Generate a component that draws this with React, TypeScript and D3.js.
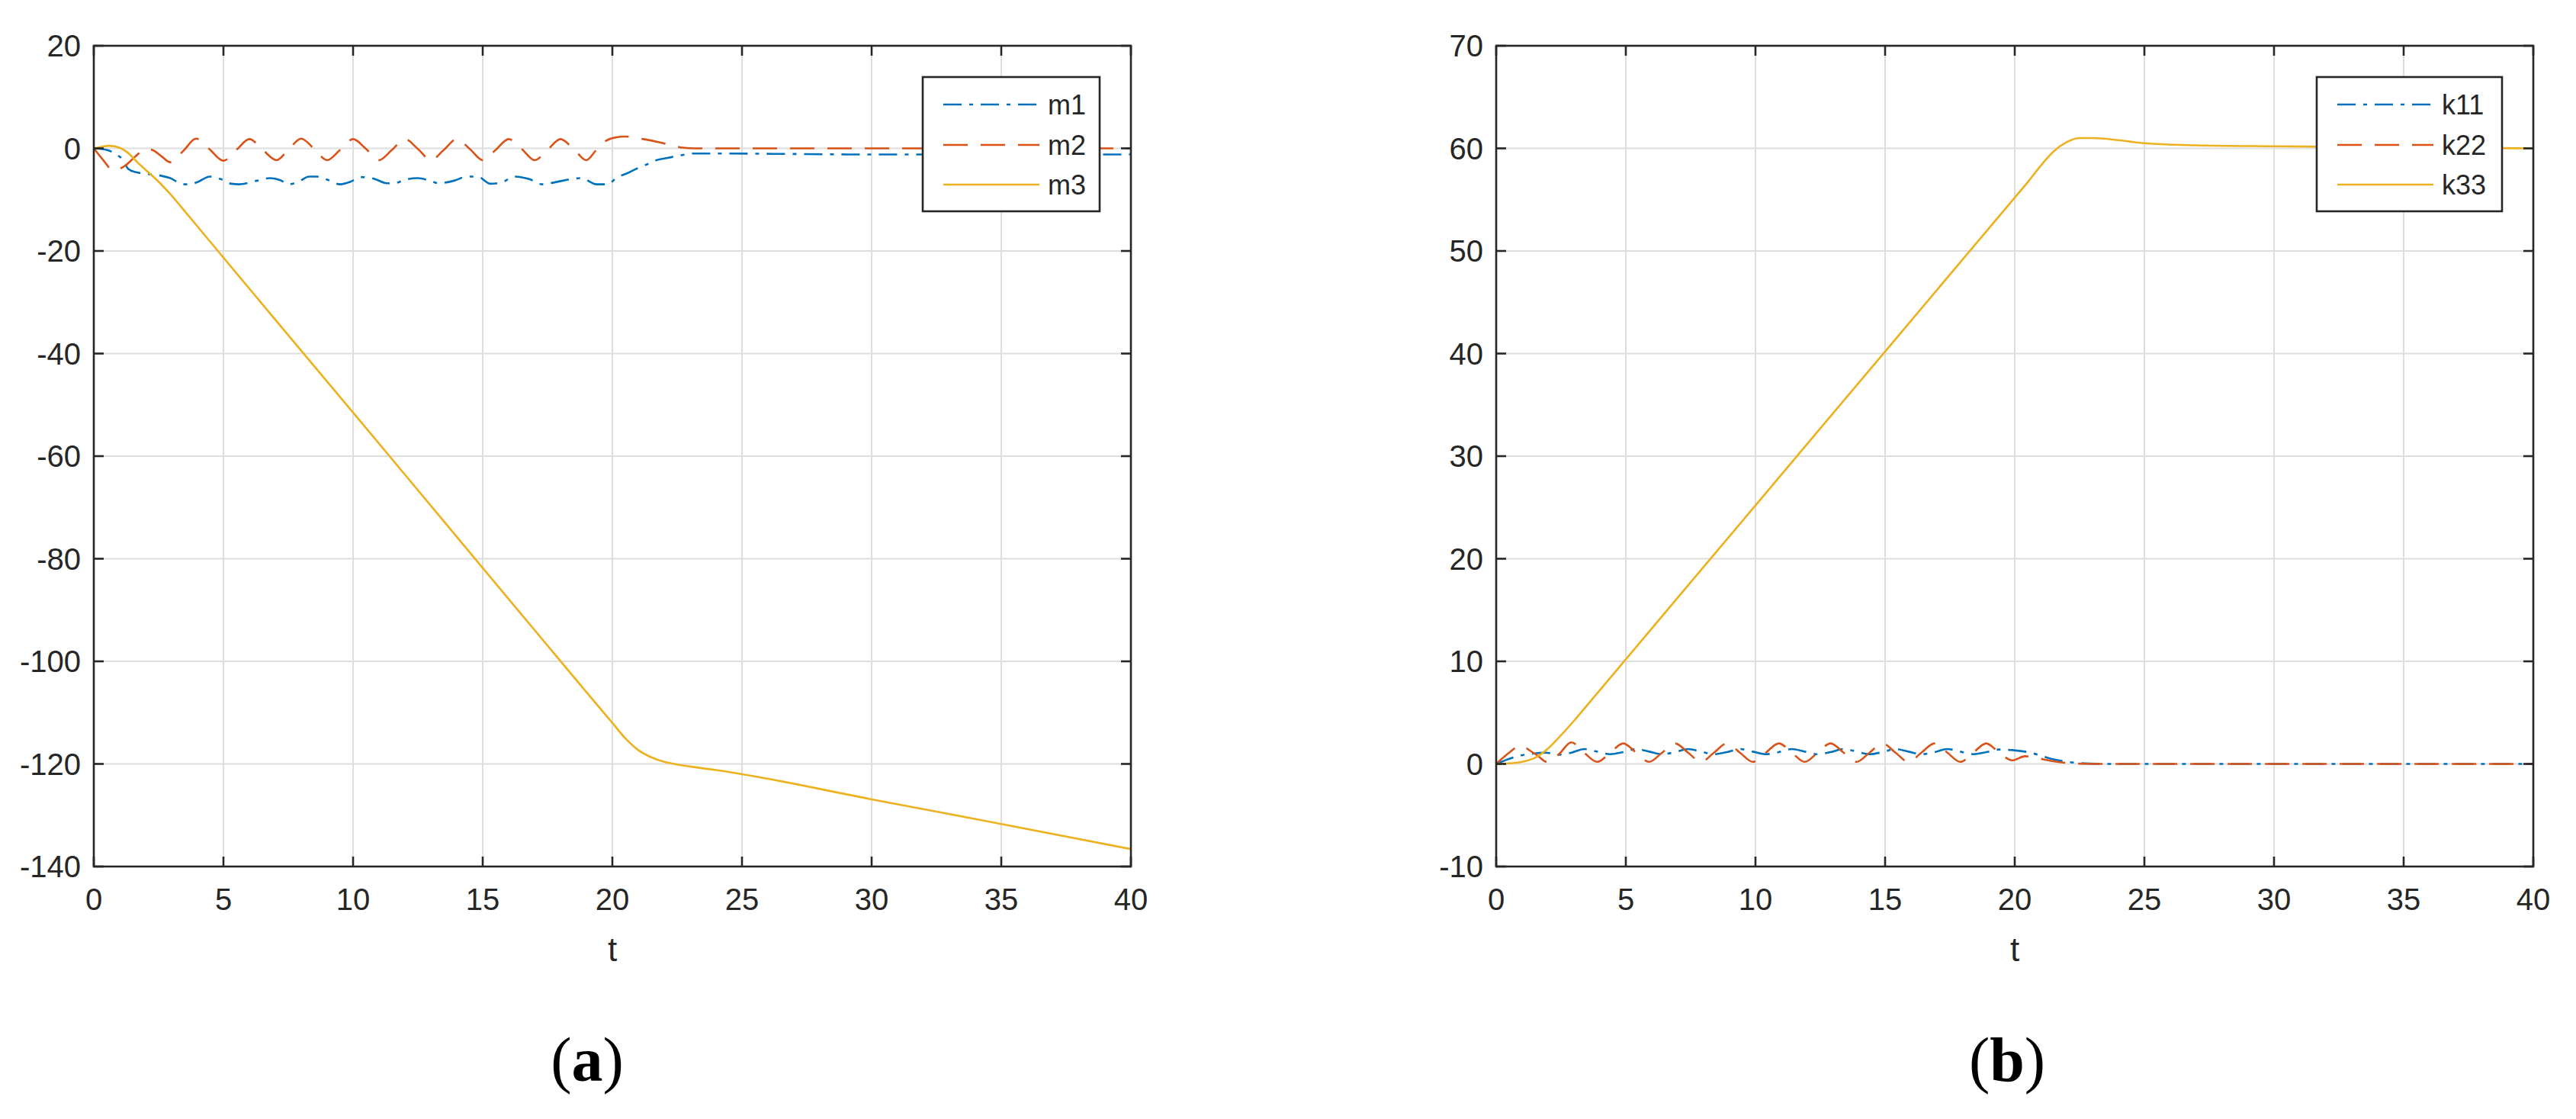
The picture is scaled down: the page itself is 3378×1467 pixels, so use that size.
import React from "react";
import * as d3 from "d3";

// ---------------- data ----------------
const tTicks = [0, 5, 10, 15, 20, 25, 30, 35, 40];
const aYTicks = [-140, -120, -100, -80, -60, -40, -20, 0, 20];
const bYTicks = [-10, 0, 10, 20, 30, 40, 50, 60, 70];

const m1: [number, number][] = [
  [0, 0], [0.5, -0.3], [0.9, -1.3], [1.1, -2.1], [1.33, -4.0], [1.6, -4.6], [2.1, -5.0], [2.56, -5.3],
  [2.95, -5.8], [3.45, -7.0], [3.7, -7.0], [4.03, -6.5], [4.47, -5.5], [4.9, -6.0], [5.3, -6.9], [5.6, -7.0],
  [6.3, -6.3], [6.8, -5.8], [7.2, -6.2], [7.5, -7.0], [7.9, -6.5], [8.3, -5.5], [8.6, -5.5], [9.0, -6.1],
  [9.5, -7.0], [9.9, -6.5], [10.3, -5.6], [10.8, -5.9], [11.3, -6.8], [11.6, -6.8], [12.0, -6.1], [12.5, -5.8],
  [12.9, -6.2], [13.3, -6.8], [13.9, -6.3], [14.4, -5.5], [14.8, -5.5], [15.3, -6.9], [15.8, -6.5], [16.2, -5.5],
  [16.8, -6.0], [17.3, -7.0], [17.8, -6.6], [18.4, -6.0], [18.8, -5.8], [19.4, -7.0], [19.8, -7.0], [20.2, -5.6],
  [20.6, -4.8], [21.0, -3.8], [21.4, -3.0], [21.7, -2.3], [22.1, -1.9], [22.7, -1.3], [23.1, -1.0], [24, -1.0],
  [27, -1.1], [30, -1.2], [35, -1.2], [40, -1.2],
];

const m2: [number, number][] = [
  [0, 0], [0.35, -2.2], [0.75, -4.3], [1.2, -3.4], [1.6, -1.6], [2.0, -0.1], [2.3, -0.4], [2.6, -1.5],
  [2.95, -2.7], [3.45, -0.5], [3.95, 1.9], [4.45, -0.1], [5.0, -2.4], [5.5, -0.3], [6.0, 1.8], [6.5, -0.2],
  [7.05, -2.3], [7.5, -0.3], [8.0, 1.9], [8.5, -0.1], [9.0, -2.3], [9.5, -0.3], [10.0, 1.8], [10.5, -0.1],
  [11.0, -2.3], [11.5, -0.3], [12.0, 1.8], [12.5, -0.1], [13.0, -2.3], [13.5, -0.3], [14.0, 1.8], [14.5, -0.1],
  [15.0, -2.3], [15.5, -0.3], [16.0, 1.8], [16.5, -0.1], [17.0, -2.3], [17.5, -0.3], [18.0, 1.8], [18.5, -0.1],
  [19.0, -2.3], [19.35, -0.5], [19.7, 1.3], [20.1, 2.1], [20.5, 2.3], [21.2, 1.8], [21.8, 1.2], [22.3, 0.6],
  [22.7, 0.15], [23.2, 0], [25, 0], [40, 0],
];

const m3: [number, number][] = [
  [0, 0], [0.3, 0.3], [0.6, 0.5], [1.0, 0.1], [1.3, -0.8], [1.7, -2.8], [2.0, -4.2], [2.5, -6.5],
  [3.0, -9.2], [3.5, -12.2], [5, -21.3], [7, -33.4], [10, -51.5], [12, -63.6], [15, -81.8], [17, -93.9],
  [19, -106], [20, -112], [20.5, -115], [21, -117.3], [21.5, -118.7], [22, -119.6], [22.5, -120.1], [23, -120.5],
  [24, -121.2], [25, -122], [30, -126.9], [35, -131.7], [40, -136.6],
];

const k11: [number, number][] = [
  [0, 0], [0.4, 0.4], [0.9, 0.8], [1.4, 1.0], [1.9, 1.1], [2.4, 0.9], [2.9, 1.1], [3.4, 1.45],
  [3.9, 1.2], [4.4, 0.95], [4.9, 1.15], [5.4, 1.45], [5.9, 1.2], [6.4, 0.95], [6.9, 1.15], [7.4, 1.45],
  [7.9, 1.2], [8.4, 0.95], [8.9, 1.15], [9.4, 1.45], [9.9, 1.2], [10.4, 0.95], [10.9, 1.15], [11.4, 1.45],
  [11.9, 1.2], [12.4, 0.95], [12.9, 1.15], [13.4, 1.45], [13.9, 1.2], [14.4, 0.95], [14.9, 1.15], [15.4, 1.45],
  [15.9, 1.2], [16.4, 0.95], [16.9, 1.15], [17.4, 1.45], [17.9, 1.2], [18.4, 0.95], [18.9, 1.15], [19.4, 1.4],
  [19.9, 1.35], [20.4, 1.2], [20.9, 0.9], [21.4, 0.5], [21.9, 0.25], [22.5, 0.08], [23.2, 0.01], [24, 0], [40, 0],
];

const k22: [number, number][] = [
  [0, 0], [0.15, 0.35], [0.5, 1.1], [0.95, 1.8], [1.3, 1.3], [1.6, 0.8], [1.95, 0.2], [2.4, 0.9],
  [2.9, 2.1], [3.35, 1.2], [3.9, 0.2], [4.4, 1.1], [4.9, 2.0], [5.4, 1.1], [5.9, 0.2], [6.4, 1.1],
  [6.9, 2.0], [7.4, 1.1], [7.9, 0.2], [8.4, 1.1], [8.9, 2.0], [9.4, 1.1], [9.9, 0.2], [10.4, 1.1],
  [10.9, 2.0], [11.4, 1.1], [11.9, 0.2], [12.4, 1.1], [12.9, 2.0], [13.4, 1.1], [13.9, 0.2], [14.4, 1.1],
  [14.9, 2.0], [15.4, 1.1], [15.9, 0.2], [16.4, 1.1], [16.9, 2.0], [17.4, 1.1], [17.9, 0.2], [18.4, 1.1],
  [18.9, 2.0], [19.4, 1.1], [19.9, 0.35], [20.4, 0.75], [20.9, 0.55], [21.4, 0.3], [22, 0.1], [22.6, 0.02],
  [23.5, 0], [40, 0],
];

const k33: [number, number][] = [
  [0, 0], [0.5, 0.05], [1.0, 0.2], [1.5, 0.6], [2.0, 1.5], [2.5, 2.8], [3.0, 4.2], [3.5, 5.7],
  [5, 10.2], [10, 25.2], [15, 40.2], [20, 55.2], [20.5, 56.7], [21, 58.3], [21.5, 59.7], [22, 60.6],
  [22.5, 61.0], [23, 61.0], [24, 60.8], [25, 60.5], [27, 60.3], [30, 60.2], [35, 60.1], [40, 60.0],
];

const aNames = ["m1", "m2", "m3"];
const bNames = ["k11", "k22", "k33"];

// ---------------- styles ----------------
const COLORS = ["#0072BD", "#D95319", "#EDB120"];
const DASHES = ["24 10 5 10", "32 17", "none"];
const AXIS = "#262626";
const GRID = "#dedede";
const SANS = "'Liberation Sans', Arial, Helvetica, sans-serif";
const SERIF = "'Liberation Serif', 'Times New Roman', serif";

const W = 3378;
const H = 1467;
const TOP = 60;
const BOTTOM = 1136;
const PW = 1360;
const TICK = 13;

type PanelProps = {
  id: string;
  left: number;
  yDomain: [number, number];
  yTicks: number[];
  series: [number, number][][];
  names: string[];
  legendWidth: number;
  label: string;
  labelX: number;
};

function Panel({ id, left, yDomain, yTicks, series, names, legendWidth, label, labelX }: PanelProps) {
  const x = d3.scaleLinear().domain([0, 40]).range([left, left + PW]);
  const y = d3.scaleLinear().domain(yDomain).range([BOTTOM, TOP]);
  const line = d3
    .line<[number, number]>()
    .x((d) => x(d[0]))
    .y((d) => y(d[1]))
    .curve(d3.curveMonotoneX);

  const right = left + PW;
  const legRight = right - 41;
  const legLeft = legRight - legendWidth;
  const legTop = 101;
  const legBottom = 277;
  const rows = [legTop + 36, legTop + 89, legTop + 141];

  return (
    <g>
      <defs>
        <clipPath id={`clip-${id}`}>
          <rect x={left} y={TOP} width={PW} height={BOTTOM - TOP} />
        </clipPath>
      </defs>
      {/* grid */}
      {tTicks.map((t) => (
        <line key={`gx${t}`} x1={x(t)} x2={x(t)} y1={TOP} y2={BOTTOM} stroke={GRID} strokeWidth={2} />
      ))}
      {yTicks.map((v) => (
        <line key={`gy${v}`} x1={left} x2={right} y1={y(v)} y2={y(v)} stroke={GRID} strokeWidth={2} />
      ))}
      {/* series */}
      <g clipPath={`url(#clip-${id})`}>
        {series.map((s, i) => (
          <path
            key={i}
            d={line(s) || ""}
            fill="none"
            stroke={COLORS[i]}
            strokeWidth={2.6}
            strokeDasharray={DASHES[i]}
          />
        ))}
      </g>
      {/* axes box */}
      <rect x={left} y={TOP} width={PW} height={BOTTOM - TOP} fill="none" stroke={AXIS} strokeWidth={2.6} />
      {tTicks.map((t) => (
        <g key={`tx${t}`}>
          <line x1={x(t)} x2={x(t)} y1={BOTTOM} y2={BOTTOM - TICK} stroke={AXIS} strokeWidth={2.6} />
          <line x1={x(t)} x2={x(t)} y1={TOP} y2={TOP + TICK} stroke={AXIS} strokeWidth={2.6} />
          <text
            x={x(t)}
            y={BOTTOM + 57}
            textAnchor="middle"
            fontFamily={SANS}
            fontSize={40}
            fill={AXIS}
          >
            {t}
          </text>
        </g>
      ))}
      {yTicks.map((v) => (
        <g key={`ty${v}`}>
          <line x1={left} x2={left + TICK} y1={y(v)} y2={y(v)} stroke={AXIS} strokeWidth={2.6} />
          <line x1={right} x2={right - TICK} y1={y(v)} y2={y(v)} stroke={AXIS} strokeWidth={2.6} />
          <text
            x={left - 17}
            y={y(v) + 14}
            textAnchor="end"
            fontFamily={SANS}
            fontSize={40}
            fill={AXIS}
          >
            {v}
          </text>
        </g>
      ))}
      {/* x label */}
      <text x={left + PW / 2} y={1260} textAnchor="middle" fontFamily={SANS} fontSize={44} fill={AXIS}>
        t
      </text>
      {/* legend */}
      <rect
        x={legLeft}
        y={legTop}
        width={legendWidth}
        height={legBottom - legTop}
        fill="#ffffff"
        stroke={AXIS}
        strokeWidth={2.6}
      />
      {names.map((n, i) => (
        <g key={n}>
          <line
            x1={legLeft + 27}
            x2={legLeft + 153}
            y1={rows[i]}
            y2={rows[i]}
            stroke={COLORS[i]}
            strokeWidth={2.6}
            strokeDasharray={DASHES[i]}
          />
          <text x={legLeft + 164} y={rows[i] + 13} fontFamily={SANS} fontSize={36} fill={AXIS}>
            {n}
          </text>
        </g>
      ))}
      {/* panel label */}
      <text x={labelX} y={1417} textAnchor="middle" fontFamily={SERIF} fontSize={82} fill="#000">
        (<tspan fontWeight="bold">{label}</tspan>)
      </text>
    </g>
  );
}

export default function App() {
  return (
    <svg
      width={W}
      height={H}
      viewBox={`0 0 ${W} ${H}`}
      style={{ position: "absolute", left: 0, top: 0, display: "block", background: "#fff" }}
    >
      <rect x={0} y={0} width={W} height={H} fill="#fff" />
      <Panel
        id="a"
        left={123}
        yDomain={[-140, 20]}
        yTicks={aYTicks}
        series={[m1, m2, m3]}
        names={aNames}
        legendWidth={232}
        label="a"
        labelX={770}
      />
      <Panel
        id="b"
        left={1962}
        yDomain={[-10, 70]}
        yTicks={bYTicks}
        series={[k11, k22, k33]}
        names={bNames}
        legendWidth={243}
        label="b"
        labelX={2632}
      />
    </svg>
  );
}
